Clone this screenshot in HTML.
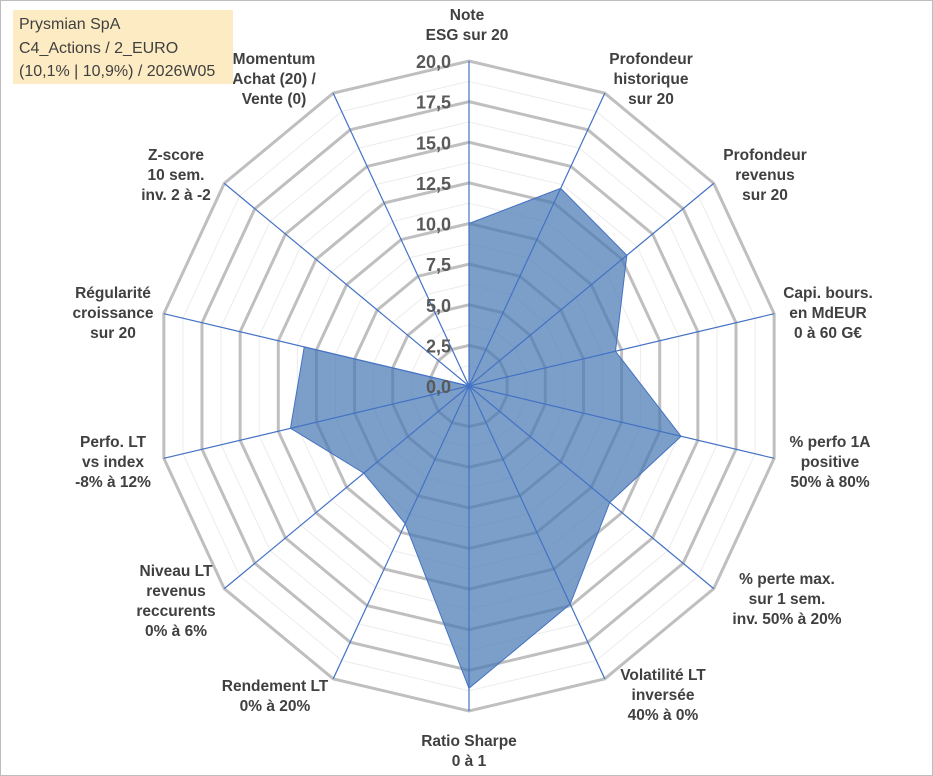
<!DOCTYPE html>
<html><head><meta charset="utf-8"><style>
body{margin:0;background:#fff;}
#wrap{position:relative;width:933px;height:776px;overflow:hidden;font-family:"Liberation Sans",sans-serif;}
#frame{position:absolute;left:0;top:0;width:931px;height:774px;border:1px solid #bdbdbd;}
#title{position:absolute;left:13px;top:10px;width:220px;height:74px;background:#fdebc3;color:#404040;font-size:16px;line-height:23.5px;padding:3px 0 0 6px;box-sizing:border-box;font-family:"Liberation Sans",sans-serif;}
svg text{font-family:"Liberation Sans",sans-serif;font-weight:bold;}
</style></head><body>
<div id="wrap">
<div id="frame"></div>
<svg id="chart" width="933" height="776" style="position:absolute;left:0;top:0"></svg>
<div id="title">Prysmian SpA<br>C4_Actions / 2_EURO<br>(10,1% | 10,9%) / 2026W05</div>
</div>
<script>
const categories=[["Note","ESG sur 20"],["Profondeur","historique","sur 20"],["Profondeur","revenus","sur 20"],["Capi. bours.","en MdEUR","0 à 60 G€"],["% perfo 1A","positive","50% à 80%"],["% perte max.","sur 1 sem.","inv. 50% à 20%"],["Volatilité LT","inversée","40% à 0%"],["Ratio Sharpe","0 à 1"],["Rendement LT","0% à 20%"],["Niveau LT","revenus","reccurents","0% à 6%"],["Perfo. LT","vs index","-8% à 12%"],["Régularité","croissance","sur 20"],["Z-score","10 sem.","inv. 2 à -2"],["Momentum","Achat (20) /","Vente (0)"]];
const values=[10,13.5,12.9,9.6,13.9,11.5,14.9,18.6,9.4,8.6,11.7,10.8,0,0];
const tickLabels=["0,0","2,5","5,0","7,5","10,0","12,5","15,0","17,5","20,0"];
const tickValues=[0,2.5,5,7.5,10,12.5,15,17.5,20];
const minorValues=[1.25,3.75,6.25,8.75,11.25,13.75,16.25,18.75];
const maxV=20;
const cx=469,cy=386,Rx=313,Ry=325;
// label layout: [centerX, firstBaselineY]
const labelPos=[[467,20],[651,64],[765,160],[828,298],[830,447],[787,584],[663,680],[469,746],[275,691],[176,576],[113,447],[113,298],[176,160],[274,64]];
const svg=document.getElementById('chart');
const NS='http://www.w3.org/2000/svg';
const n=categories.length;
function ang(i){return i*2*Math.PI/n;}
function pt(i,v){const f=v/maxV;return [cx+f*Rx*Math.sin(ang(i)),cy-f*Ry*Math.cos(ang(i))];}
function ring(v){let s=[];for(let i=0;i<n;i++){s.push(pt(i,v).join(','));}return s.join(' ');}
function mk(tag,attrs){const e=document.createElementNS(NS,tag);for(const k in attrs)e.setAttribute(k,attrs[k]);svg.appendChild(e);return e;}
minorValues.forEach(v=>{const p=mk('polygon',{points:ring(v),fill:'none',stroke:'#ececec','stroke-width':1});

});
tickValues.forEach(v=>{if(v===0)return;const p=mk('polygon',{points:ring(v),fill:'none',stroke:'#bfbfbf','stroke-width':3});

});
let poly=[];for(let i=0;i<n;i++)poly.push(pt(i,values[i]).join(','));
const area=mk('polygon',{points:poly.join(' '),fill:'#4a7ab4','fill-opacity':0.72,stroke:'#4472c4','stroke-width':1});


for(let i=0;i<n;i++){const e=pt(i,maxV);const l=mk('line',{x1:cx,y1:cy,x2:e[0],y2:e[1],stroke:'#4472c4','stroke-width':1.2});

}
tickValues.forEach((v,k)=>{const y=cy-v/maxV*Ry;const t=mk('text',{x:cx-18,y:y+7,'text-anchor':'end','font-size':18,fill:'#595959'});t.textContent=tickLabels[k];

});
categories.forEach((lines,i)=>{const x=labelPos[i][0],y0=labelPos[i][1];
const t=mk('text',{x:x,y:y0,'text-anchor':'middle','font-size':15.5,fill:'#404040'});


lines.forEach((ln,j)=>{const ts=document.createElementNS(NS,'tspan');ts.setAttribute('x',x);ts.setAttribute('y',y0+j*20);ts.textContent=ln;t.appendChild(ts);});});
</script>
</body></html>
